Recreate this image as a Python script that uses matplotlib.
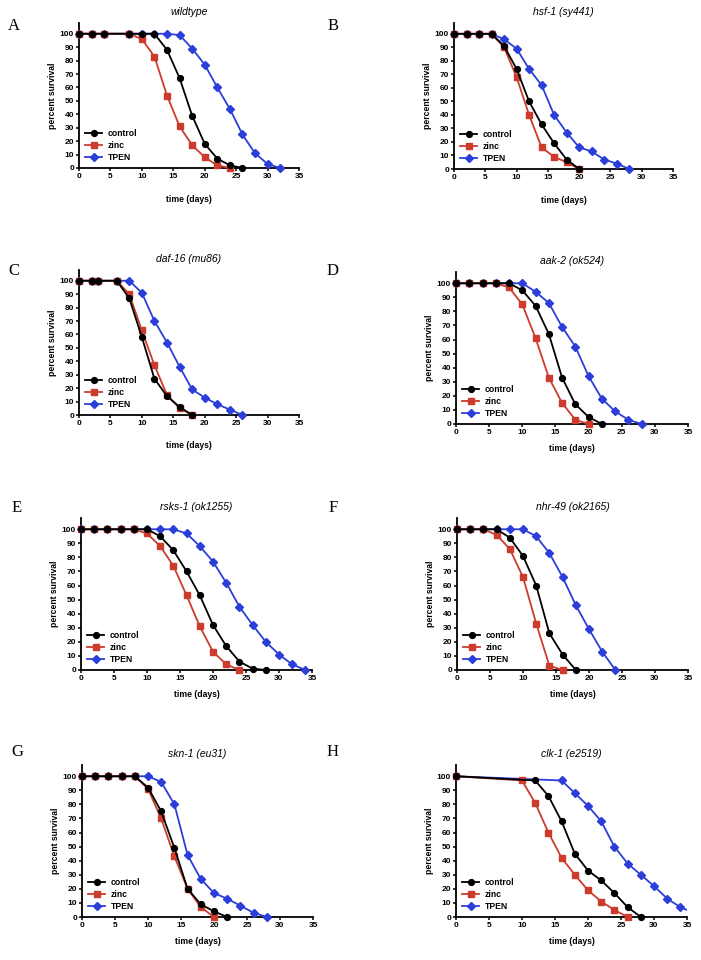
import matplotlib
matplotlib.use("Agg")
import matplotlib.pyplot as plt

plt.rcParams['font.family'] = ['Liberation Sans', 'DejaVu Sans']
plt.rcParams['font.weight'] = 'bold'

# ---- data (days, percent survival) ----
# A: wildtype
a_control_t = [0, 2, 4, 8, 10, 12, 14, 16, 18, 20, 22, 24, 26]
a_control = [100, 100, 100, 100, 100, 100, 88, 67, 39, 18, 7, 2, 0]
a_zinc_t = [0, 2, 4, 8, 10, 12, 14, 16, 18, 20, 22, 24]
a_zinc = [100, 100, 100, 100, 96, 83, 54, 31, 17, 8, 2, 0]
a_tpen_t = [0, 2, 4, 8, 10, 12, 14, 16, 18, 20, 22, 24, 26, 28, 30, 32]
a_tpen = [100, 100, 100, 100, 100, 100, 100, 99, 89, 77, 60, 44, 25, 11, 3, 0]

# B: hsf-1 (sy441)
b_control_t = [0, 2, 4, 6, 8, 10, 12, 14, 16, 18, 20]
b_control = [100, 100, 100, 100, 91, 74, 50, 33, 19, 7, 0]
b_zinc_t = [0, 2, 4, 6, 8, 10, 12, 14, 16, 18, 20]
b_zinc = [100, 100, 100, 100, 90, 68, 40, 16, 9, 5, 0]
b_tpen_t = [0, 2, 4, 6, 8, 10, 12, 14, 16, 18, 20, 22, 24, 26, 28]
b_tpen = [100, 100, 100, 100, 96, 89, 74, 62, 40, 27, 16, 13, 7, 4, 0]

# C: daf-16 (mu86)
c_control_t = [0, 2, 3, 6, 8, 10, 12, 14, 16, 18]
c_control = [100, 100, 100, 100, 87, 58, 27, 14, 6, 0]
c_zinc_t = [0, 2, 3, 6, 8, 10, 12, 14, 16, 18]
c_zinc = [100, 100, 100, 100, 90, 63, 37, 15, 5, 0]
c_tpen_t = [0, 2, 3, 6, 8, 10, 12, 14, 16, 18, 20, 22, 24, 26]
c_tpen = [100, 100, 100, 100, 100, 91, 70, 54, 36, 19, 13, 8, 4, 0]

# D: aak-2 (ok524)
d_control_t = [0, 2, 4, 6, 8, 10, 12, 14, 16, 18, 20, 22]
d_control = [100, 100, 100, 100, 100, 95, 84, 64, 33, 14, 5, 0]
d_zinc_t = [0, 2, 4, 6, 8, 10, 12, 14, 16, 18, 20]
d_zinc = [100, 100, 100, 100, 97, 85, 61, 33, 15, 3, 0]
d_tpen_t = [0, 2, 4, 6, 8, 10, 12, 14, 16, 18, 20, 22, 24, 26, 28]
d_tpen = [100, 100, 100, 100, 100, 100, 94, 86, 69, 55, 34, 18, 9, 3, 0]

# E: rsks-1 (ok1255)
e_control_t = [0, 2, 4, 6, 8, 10, 12, 14, 16, 18, 20, 22, 24, 26, 28]
e_control = [100, 100, 100, 100, 100, 100, 95, 85, 70, 53, 32, 17, 6, 1, 0]
e_zinc_t = [0, 2, 4, 6, 8, 10, 12, 14, 16, 18, 20, 22, 24]
e_zinc = [100, 100, 100, 100, 100, 97, 88, 74, 53, 31, 13, 4, 0]
e_tpen_t = [0, 2, 4, 6, 8, 10, 12, 14, 16, 18, 20, 22, 24, 26, 28, 30, 32, 34]
e_tpen = [100, 100, 100, 100, 100, 100, 100, 100, 97, 88, 77, 62, 45, 32, 20, 11, 4, 0]

# F: nhr-49 (ok2165)
f_control_t = [0, 2, 4, 6, 8, 10, 12, 14, 16, 18]
f_control = [100, 100, 100, 100, 94, 81, 60, 26, 11, 0]
f_zinc_t = [0, 2, 4, 6, 8, 10, 12, 14, 16]
f_zinc = [100, 100, 100, 96, 86, 66, 33, 3, 0]
f_tpen_t = [0, 2, 4, 6, 8, 10, 12, 14, 16, 18, 20, 22, 24]
f_tpen = [100, 100, 100, 100, 100, 100, 95, 83, 66, 46, 29, 13, 0]

# G: skn-1 (eu31)
g_control_t = [0, 2, 4, 6, 8, 10, 12, 14, 16, 18, 20, 22]
g_control = [100, 100, 100, 100, 100, 92, 75, 49, 20, 9, 4, 0]
g_zinc_t = [0, 2, 4, 6, 8, 10, 12, 14, 16, 18, 20]
g_zinc = [100, 100, 100, 100, 100, 91, 70, 43, 20, 7, 0]
g_tpen_t = [0, 2, 4, 6, 8, 10, 12, 14, 16, 18, 20, 22, 24, 26, 28]
g_tpen = [100, 100, 100, 100, 100, 100, 96, 80, 44, 27, 17, 13, 8, 3, 0]

# H: clk-1 (e2519)
h_control_t = [0, 12, 14, 16, 18, 20, 22, 24, 26, 28]
h_control = [100, 97, 86, 68, 45, 33, 26, 17, 7, 0]
h_zinc_t = [0, 10, 12, 14, 16, 18, 20, 22, 24, 26]
h_zinc = [100, 97, 81, 60, 42, 30, 19, 11, 5, 0]
h_tpen_t = [0, 16, 18, 20, 22, 24, 26, 28, 30, 32, 34, 36]
h_tpen = [100, 97, 88, 79, 68, 50, 38, 30, 22, 13, 7, 3]

titles = ['wildtype', 'hsf-1 (sy441)', 'daf-16 (mu86)', 'aak-2 (ok524)',
          'rsks-1 (ok1255)', 'nhr-49 (ok2165)', 'skn-1 (eu31)', 'clk-1 (e2519)']
letters = ['A', 'B', 'C', 'D', 'E', 'F', 'G', 'H']
series_names = ['control', 'zinc', 'TPEN']

panels = [
    (a_control_t, a_control, a_zinc_t, a_zinc, a_tpen_t, a_tpen),
    (b_control_t, b_control, b_zinc_t, b_zinc, b_tpen_t, b_tpen),
    (c_control_t, c_control, c_zinc_t, c_zinc, c_tpen_t, c_tpen),
    (d_control_t, d_control, d_zinc_t, d_zinc, d_tpen_t, d_tpen),
    (e_control_t, e_control, e_zinc_t, e_zinc, e_tpen_t, e_tpen),
    (f_control_t, f_control, f_zinc_t, f_zinc, f_tpen_t, f_tpen),
    (g_control_t, g_control, g_zinc_t, g_zinc, g_tpen_t, g_tpen),
    (h_control_t, h_control, h_zinc_t, h_zinc, h_tpen_t, h_tpen),
]

# axes boxes in pixels: left, right, bottom (y=0), top
W, H = 701, 960
boxes = [
    (79, 299, 168, 23), (454, 673, 169, 23),
    (79, 299, 415, 270), (456, 688, 424, 272),
    (81, 312, 670, 518), (457, 688, 670, 518),
    (82, 313, 917, 765), (456, 687, 917, 765),
]
letter_pos = [(14, 26), (333, 26), (14, 271), (333, 271),
              (17, 508), (333, 508), (17, 752), (333, 752)]
xlabel_pads = [11, 11, 10, 6, 6, 6, 6, 6]

colors = ['black', '#cc3b2c', '#2b3ed8']
markers = ['o', 's', 'D']
msizes = [4.2, 3.8, 3.6]

fig = plt.figure(figsize=(W / 100, H / 100), dpi=100)

for i, data in enumerate(panels):
    left, right, bottom, top = boxes[i]
    ax = fig.add_axes([left / W, 1 - bottom / H, (right - left) / W, (bottom - top) / H])

    # draw TPEN, zinc, then control on top
    for k in [2, 1, 0]:
        ax.plot(data[2 * k], data[2 * k + 1], color=colors[k], marker=markers[k],
                markersize=msizes[k], linewidth=1.3, label=series_names[k],
                clip_on=(i == 7 and k == 2), zorder=3 + (2 - k))

    ax.set_xlim(0, 35)
    ax.set_ylim(0, 108)
    ax.set_xticks(range(0, 36, 5))
    ax.set_yticks(range(0, 101, 10))
    ax.spines['top'].set_visible(False)
    ax.spines['right'].set_visible(False)
    ax.spines['left'].set_linewidth(1.3)
    ax.spines['bottom'].set_linewidth(1.3)
    ax.tick_params(direction='out', length=2.5, width=1.1, labelsize=6, pad=1)
    for lab in ax.get_xticklabels() + ax.get_yticklabels():
        lab.set_fontweight('bold')

    ax.set_xlabel('time (days)', fontsize=6.2, fontweight='bold', labelpad=xlabel_pads[i])
    ax.set_ylabel('percent survival', fontsize=6.2, fontweight='bold', labelpad=2)
    ax.set_title(titles[i], fontsize=7.5, fontstyle='italic', fontweight='normal', pad=6)

    handles, labels = ax.get_legend_handles_labels()
    ax.legend(handles[::-1], labels[::-1], loc='lower left', frameon=False,
              fontsize=6.2, handlelength=2.0, handletextpad=0.6, labelspacing=0.35,
              borderaxespad=0.3, prop={'weight': 'bold', 'size': 6.2})

    lx, ly = letter_pos[i]
    fig.text(lx / W, 1 - ly / H, letters[i], fontsize=12, family='Liberation Serif',
             fontweight='normal', ha='center', va='center')

fig.savefig('out.png', dpi=100)
